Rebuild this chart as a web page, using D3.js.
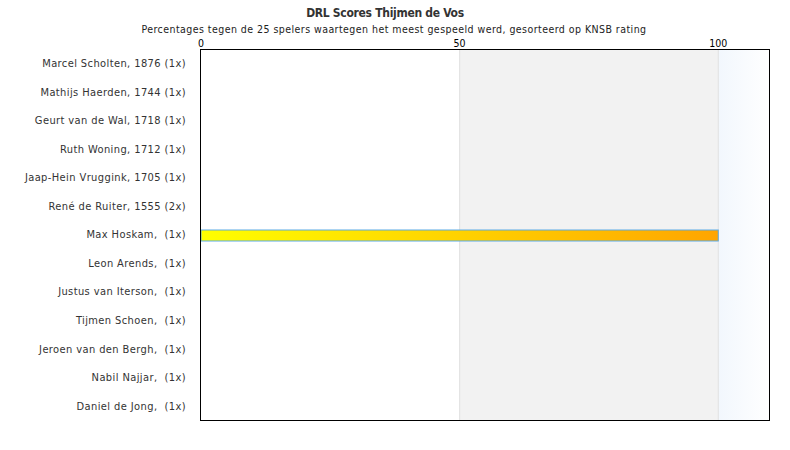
<!DOCTYPE html>
<html lang="nl">
<head>
<meta charset="UTF-8">
<title>DRL Scores Thijmen de Vos</title>
<script src="https://cdnjs.cloudflare.com/ajax/libs/d3/7.8.5/d3.min.js"></script>
<style>
    body { margin: 0; background: #fff; }
    svg { display: block; font-family: "DejaVu Sans Condensed", "DejaVu Sans", sans-serif; }
    svg text { white-space: pre; }
</style>
</head>
<body>
<svg id="chart" width="790" height="450"></svg>
<script>
    const players = [
        "Marcel Scholten, 1876 (1x)",
        "Mathijs Haerden, 1744 (1x)",
        "Geurt van de Wal, 1718 (1x)",
        "Ruth Woning, 1712 (1x)",
        "Jaap-Hein Vruggink, 1705 (1x)",
        "René de Ruiter, 1555 (2x)",
        "Max Hoskam,  (1x)",
        "Leon Arends,  (1x)",
        "Justus van Iterson,  (1x)",
        "Tijmen Schoen,  (1x)",
        "Jeroen van den Bergh,  (1x)",
        "Nabil Najjar,  (1x)",
        "Daniel de Jong,  (1x)"
    ];
    const scores = [0, 0, 0, 0, 0, 0, 100, 0, 0, 0, 0, 0, 0];
    const ticks = [0, 50, 100];

    const svg = d3.select("#chart");
    const margin = { top: 49, right: 20, bottom: 30, left: 200 };
    const width = 790 - margin.left - margin.right;
    const height = 450 - margin.top - margin.bottom;

    const x = d3.scaleLinear().domain([0, 110]).range([1, width]);
    const y = d3.scaleBand().domain(players).range([0, height]);

    const defs = svg.append("defs");
    const barGrad = defs.append("linearGradient").attr("id", "barGrad");
    barGrad.append("stop").attr("offset", "0%").attr("stop-color", "#ffff00");
    barGrad.append("stop").attr("offset", "100%").attr("stop-color", "#ffa500");
    const bandGrad = defs.append("linearGradient").attr("id", "bandGrad");
    bandGrad.append("stop").attr("offset", "0%").attr("stop-color", "#f2f7fd");
    bandGrad.append("stop").attr("offset", "100%").attr("stop-color", "#ffffff");

    svg.append("text")
        .attr("x", 385).attr("y", 17)
        .attr("text-anchor", "middle")
        .attr("font-size", 12).attr("font-weight", "bold")
        .attr("letter-spacing", -0.3)
        .attr("fill", "#333")
        .text("DRL Scores Thijmen de Vos");

    svg.append("text")
        .attr("x", 394).attr("y", 33)
        .attr("text-anchor", "middle")
        .attr("font-size", 10.5)
        .attr("letter-spacing", 0.45)
        .attr("fill", "#222")
        .text("Percentages tegen de 25 spelers waartegen het meest gespeeld werd, gesorteerd op KNSB rating");

    const g = svg.append("g").attr("transform", `translate(${margin.left},${margin.top})`);

    // plot bands
    g.append("rect")
        .attr("x", x(50)).attr("y", 0)
        .attr("width", x(100) - x(50)).attr("height", height)
        .attr("fill", "#f2f2f2");
    g.append("rect")
        .attr("x", x(100)).attr("y", 0)
        .attr("width", x(110) - x(100)).attr("height", height)
        .attr("fill", "url(#bandGrad)");

    g.selectAll(".grid")
        .data([50, 100])
        .join("line")
        .attr("x1", d => x(d)).attr("x2", d => x(d))
        .attr("y1", 0).attr("y2", height)
        .attr("stroke", "#e0e0e0");

    // top axis labels
    g.selectAll(".tick")
        .data(ticks)
        .join("text")
        .attr("x", d => x(d)).attr("y", -2)
        .attr("text-anchor", "middle")
        .attr("font-size", 10.5)
        .attr("fill", "#000")
        .text(d => d);

    // y labels
    g.selectAll(".label")
        .data(players)
        .join("text")
        .attr("x", -14)
        .attr("y", d => y(d) + y.bandwidth() / 2)
        .attr("dy", "0.35em")
        .attr("text-anchor", "end")
        .attr("font-size", 11)
        .attr("letter-spacing", 0.4)
        .attr("fill", "#333")
        .text(d => d);

    // bars
    g.selectAll(".bar")
        .data(players.map((p, i) => ({ p, v: scores[i] })).filter(d => d.v > 0))
        .join("rect")
        .attr("x", x(0))
        .attr("y", d => y(d.p) + y.bandwidth() / 2 - 4.5)
        .attr("width", d => x(d.v) - x(0))
        .attr("height", 11)
        .attr("fill", "url(#barGrad)")
        .attr("stroke", "#5aaae6")
        .attr("stroke-width", 1);

    // frame
    g.append("rect")
        .attr("x", 0.5).attr("y", 0.5)
        .attr("width", width - 1).attr("height", height)
        .attr("fill", "none")
        .attr("stroke", "#000");
</script>
</body>
</html>
